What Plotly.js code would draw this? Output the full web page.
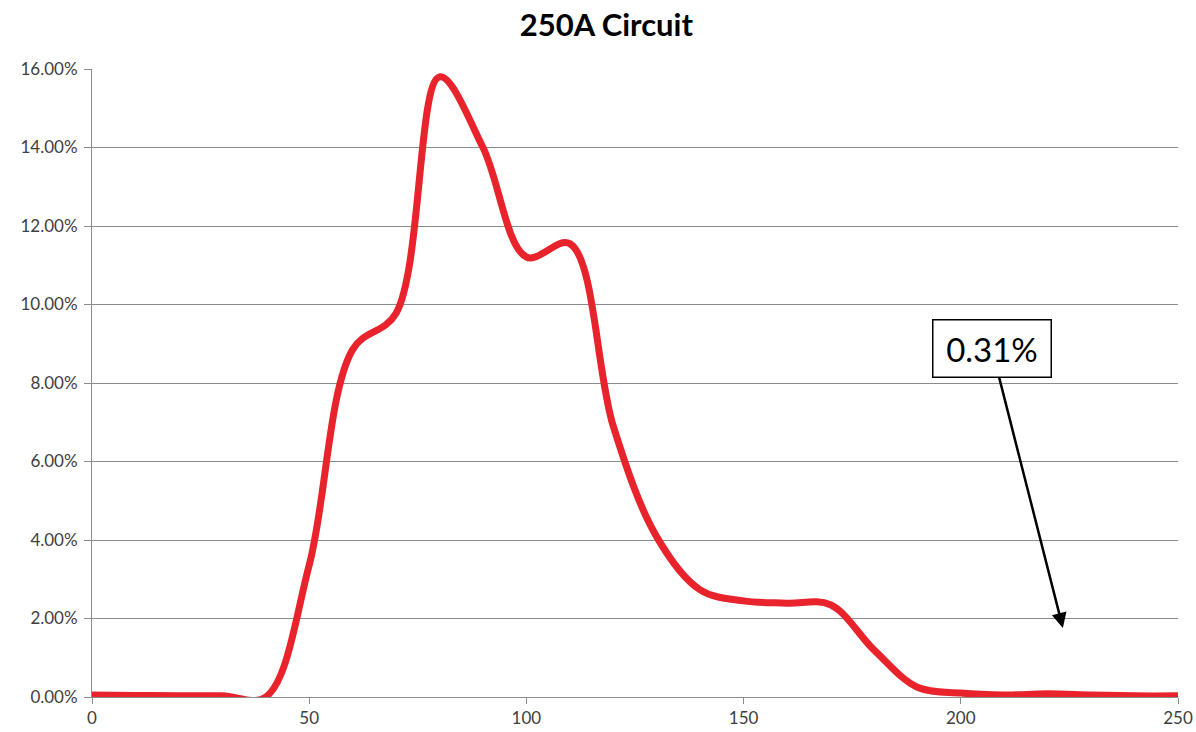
<!DOCTYPE html>
<html>
<head>
<meta charset="utf-8">
<script src="https://cdn.plot.ly/plotly-3.0.1.min.js"></script>
<style>html,body{margin:0;padding:0;background:#fff;}#chart{width:1196px;height:732px;}</style>
</head>
<body>
<div id="chart"></div>
<script>
// Current (A) vs share of time
const currentA = [0, 10, 20, 30, 40, 50, 60, 70, 80, 90, 100, 110, 120, 130, 140, 150, 160, 170, 180, 190, 200, 210, 220, 230, 240, 250];
const share = [0.0005, 0.0004, 0.0003, 0.0003, 0.0000, 0.0336, 0.0885, 0.0978, 0.1580, 0.1400, 0.1121, 0.1155, 0.0690, 0.0408, 0.0273, 0.0245, 0.0239, 0.0235, 0.0120, 0.0025, 0.0010, 0.0005, 0.0008, 0.0005, 0.0003, 0.0003];
const annotationText = "0.31%";
const annotationX = 223.5;
const annotationY = 0.0176;

const font = "Lato, 'Open Sans', sans-serif";

Plotly.newPlot('chart', [{
  x: currentA,
  y: share,
  type: 'scatter',
  mode: 'lines',
  line: {color: 'rgb(233,35,43)', width: 7, shape: 'spline', smoothing: 1},
  hoverinfo: 'x+y'
}], {
  width: 1196,
  height: 732,
  margin: {l: 92, r: 18, t: 69, b: 35},
  paper_bgcolor: '#fff',
  plot_bgcolor: '#fff',
  showlegend: false,
  title: {text: '<b>250A Circuit</b>', x: 0.507, xanchor: 'center', y: 0.966, yanchor: 'middle',
          font: {family: font, size: 31, color: '#000'}},
  xaxis: {
    range: [0, 250], tickvals: [0, 50, 100, 150, 200, 250],
    showgrid: false, zeroline: false, showline: true, linecolor: '#8c8c8c', linewidth: 1,
    ticks: 'outside', ticklen: 6, tickcolor: '#8c8c8c',
    tickfont: {family: font, size: 17, color: '#404040'}
  },
  yaxis: {
    range: [0, 0.16], dtick: 0.02, tickformat: '.2%',
    showgrid: true, gridcolor: '#8c8c8c', gridwidth: 1, zeroline: false,
    showline: true, linecolor: '#8c8c8c', linewidth: 1,
    ticks: 'outside', ticklen: 7, tickcolor: '#8c8c8c', ticklabelstandoff: 3,
    tickfont: {family: font, size: 17, color: '#404040'}
  },
  annotations: [{
    x: annotationX, y: annotationY, xref: 'x', yref: 'y',
    text: annotationText, showarrow: true,
    ax: -71, ay: -279, axref: 'pixel', ayref: 'pixel',
    arrowhead: 2, arrowsize: 1.2, arrowwidth: 2.5, arrowcolor: '#000',
    font: {family: font, size: 33, color: '#000'},
    bgcolor: '#fff', bordercolor: '#000', borderwidth: 1.5, borderpad: 0,
    width: 117, height: 56, align: 'center', valign: 'middle'
  }]
}, {displayModeBar: false});
</script>
</body>
</html>
